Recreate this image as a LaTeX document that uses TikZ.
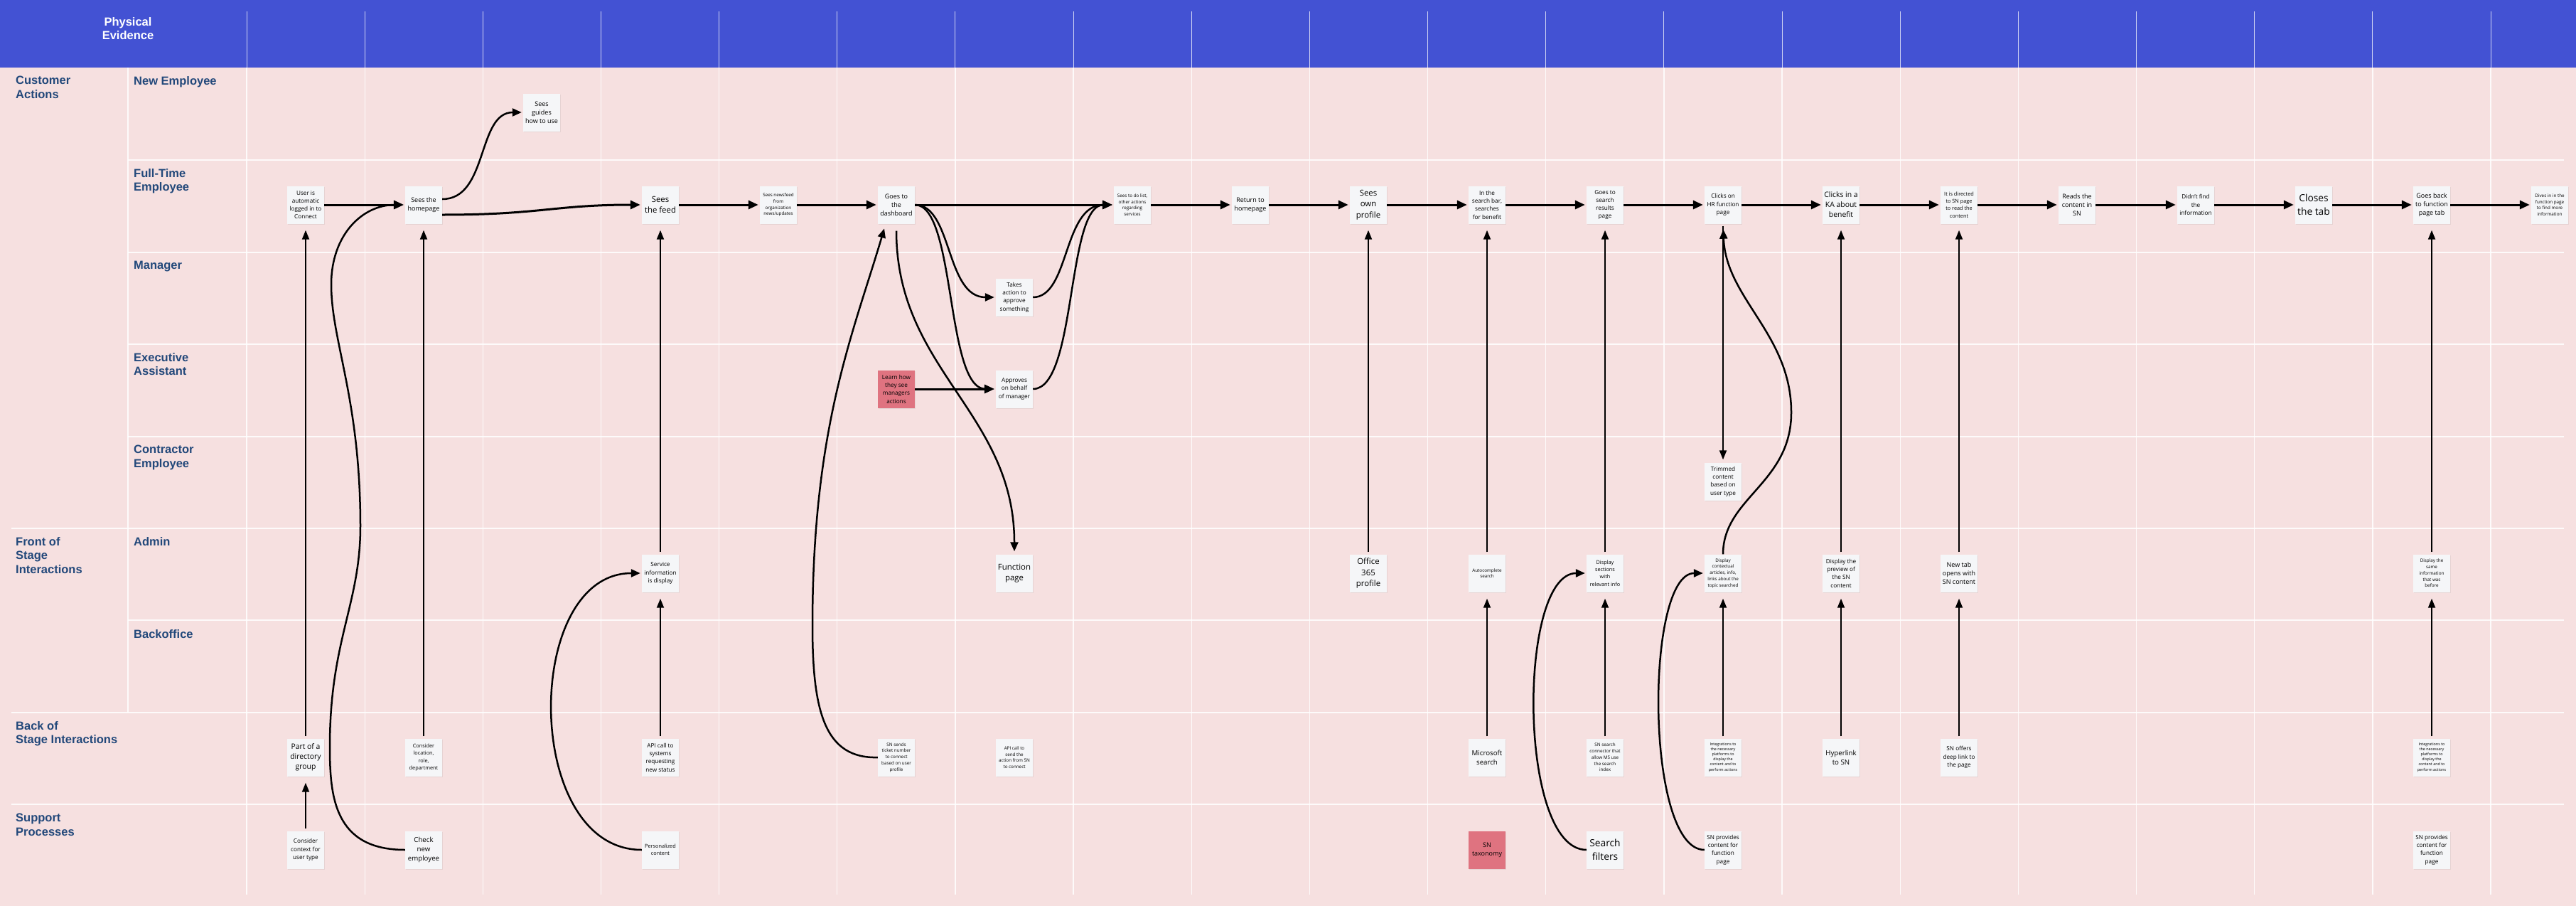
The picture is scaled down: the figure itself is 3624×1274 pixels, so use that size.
\documentclass[tikz,border=0pt]{standalone}
\usepackage{fontspec}
\setmainfont{Open Sans}
\newfontfamily\lanefont{Liberation Sans}
\usetikzlibrary{arrows.meta,shadows}
\definecolor{band}{HTML}{4352D3}
\definecolor{paper}{HTML}{F6E0E0}
\definecolor{cardfill}{HTML}{F5F6F8}
\definecolor{flagred}{HTML}{DF7380}
\definecolor{lanec}{HTML}{22487A}
\newcommand{\sz}[2]{\fontsize{#1}{#2}\selectfont}

\begin{document}
\begin{tikzpicture}[x=1pt,y=-1pt,
  card/.style={fill=cardfill,minimum width=52,minimum height=53,inner sep=1pt,align=center,
    drop shadow={shadow xshift=0.5pt,shadow yshift=-1.2pt,opacity=0.13},font=\sz{8.2}{11.3}},
  flag/.style={fill=flagred},
  s5/.style={font=\sz{5.4}{7.1}},
  s6/.style={font=\sz{6.3}{8.7}},
  s7/.style={font=\sz{7.3}{10.2}},
  s9/.style={font=\sz{9}{12.2}},
  s10/.style={font=\sz{9.7}{13}},
  s11/.style={font=\sz{10.4}{14}},
  s12/.style={font=\sz{11.4}{15.3}},
  s14/.style={font=\sz{13.8}{18.5}},
  lane/.style={anchor=north west,inner sep=0pt,align=left,text=lanec,font=\lanefont\bfseries\sz{16.5}{19.5}},
  gridline/.style={draw=white,line width=1.3pt,opacity=0.85},
  flow/.style={-{Triangle[length=14pt,width=12pt]},line width=3pt,shorten >=2pt},
  swoop/.style={-{Triangle[length=13pt,width=11pt]},line width=2.5pt,shorten >=2pt},
  lift/.style={-{Triangle[length=13pt,width=10pt]},line width=2pt,shorten >=9pt,shorten <=3pt}]
\useasboundingbox (0,0) rectangle (3624,1274);
\fill[paper] (0,0) rectangle (3624,1274);
\fill[band] (0,0) rectangle (3624,95);
\foreach \k in {0,...,19}
  \draw[white,opacity=0.75,line width=1pt] ({347+166.16*\k},16) -- ++(0,79);
\foreach \k in {0,...,19}
  \draw[gridline] ({347+166.16*\k},95) -- ++(0,1163);
\draw[gridline] (180,95) -- (180,1002);
\foreach \y in {225,355,484,614,872}
  \draw[gridline] (180,\y) -- (3607,\y);
\foreach \y in {743,1002,1131}
  \draw[gridline] (16,\y) -- (3607,\y);

\node[lane,text=white,anchor=center,align=center] (lpe) at (180,40) {Physical\\Evidence};
\node[lane] (lca) at (22,107) {Customer\\Actions};
\node[lane] (lne) at (188,107) {New Employee};
\node[lane] (lft) at (188,237) {Full-Time\\Employee};
\node[lane] (lmg) at (188,367) {Manager};
\node[lane] (lea) at (188,496) {Executive\\Assistant};
\node[lane] (lce) at (188,626) {Contractor\\Employee};
\node[lane] (lfs) at (22,755) {Front of\\Stage\\Interactions};
\node[lane] (lad) at (188,755) {Admin};
\node[lane] (lbo) at (188,885) {Backoffice};
\node[lane] (lbs) at (22,1014) {Back of\\Stage Interactions};
\node[lane] (lsp) at (22,1144) {Support\\Processes};

\node[card] (usr) at (430,288) {User is\\automatic\\logged in to\\Connect};
\node[card,s9] (hom) at (596,288) {Sees the\\homepage};
\node[card,s9] (gui) at (762,158) {Sees\\guides\\how to use};
\node[card,s12] (fed) at (929,288) {Sees\\the feed};
\node[card,s6] (nws) at (1095,288) {Sees newsfeed\\from\\organization\\news/updates};
\node[card,s9] (dsh) at (1261,288) {Goes to\\the\\dashboard};
\node[card] (tak) at (1427,418) {Takes\\action to\\approve\\something};
\node[card] (apv) at (1427,547) {Approves\\on behalf\\of manager};
\node[card,flag] (lrn) at (1261,547) {Learn how\\they see\\managers\\actions};
\node[card,s6] (tdo) at (1593,288) {Sees to do list,\\other actions\\regarding\\services};
\node[card,s9] (ret) at (1759,288) {Return to\\homepage};
\node[card,s12] (prf) at (1925,288) {Sees\\own\\profile};
\node[card] (sbr) at (2092,288) {In the\\search bar,\\searches\\for benefit};
\node[card] (srp) at (2258,288) {Goes to\\search\\results\\page};
\node[card] (hrf) at (2424,288) {Clicks on\\HR function\\page};
\node[card,s11] (kab) at (2590,288) {Clicks in a\\KA about\\benefit};
\node[card,s7] (dir) at (2756,288) {It is directed\\to SN page\\to read the\\content};
\node[card,s9] (rds) at (2922,288) {Reads the\\content in\\SN};
\node[card] (dnf) at (3089,288) {Didn't find\\the\\information};
\node[card,s14] (cls) at (3255,288) {Closes\\the tab};
\node[card,s9] (gbk) at (3421,288) {Goes back\\to function\\page tab};
\node[card,s6] (div) at (3587,288) {Dives in in the\\function page\\to find more\\information};
\node[card] (trm) at (2424,677) {Trimmed\\content\\based on\\user type};

\node[card] (svc) at (929,806) {Service\\information\\is display};
\node[card,s12] (fnc) at (1427,806) {Function\\page};
\node[card,s12] (ofc) at (1925,806) {Office\\365\\profile};
\node[card,s6] (acs) at (2092,806) {Autocomplete\\search};
\node[card,s7] (dsc) at (2258,806) {Display\\sections\\with\\relevant info};
\node[card,s6] (ctx) at (2424,806) {Display\\contextual\\articles, info,\\links about the\\topic searched};
\node[card] (prv) at (2590,806) {Display the\\preview of\\the SN\\content};
\node[card,s9] (ntb) at (2756,806) {New tab\\opens with\\SN content};
\node[card,s6] (dsm) at (3421,806) {Display the\\same\\information\\that was\\before};

\node[card,s11] (pdg) at (430,1065) {Part of a\\directory\\group};
\node[card,s7] (loc) at (596,1065) {Consider\\location,\\role,\\department};
\node[card] (api) at (929,1065) {API call to\\systems\\requesting\\new status};
\node[card,s6] (snt) at (1261,1065) {SN sends\\ticket number\\to connect\\based on user\\profile};
\node[card,s6] (aps) at (1427,1065) {API call to\\send the\\action from SN\\to connect};
\node[card,s10] (mss) at (2092,1065) {Microsoft\\search};
\node[card,s6] (ssc) at (2258,1065) {SN search\\connector that\\allow MS use\\the search\\index};
\node[card,s5] (itg) at (2424,1065) {Integrations to\\the necessary\\platforms to\\display the\\content and to\\perform actions};
\node[card,s10] (hyp) at (2590,1065) {Hyperlink\\to SN};
\node[card] (sdl) at (2756,1065) {SN offers\\deep link to\\the page};
\node[card,s5] (itb) at (3421,1065) {Integrations to\\the necessary\\platforms to\\display the\\content and to\\perform actions};

\node[card] (ccx) at (430,1195) {Consider\\context for\\user type};
\node[card,s10] (chk) at (596,1195) {Check\\new\\employee};
\node[card,s7] (per) at (929,1195) {Personalized\\content};
\node[card,flag,s9] (tax) at (2092,1195) {SN\\taxonomy};
\node[card,s14] (flt) at (2258,1195) {Search\\filters};
\node[card] (spc) at (2424,1195) {SN provides\\content for\\function\\page};
\node[card] (spd) at (3421,1195) {SN provides\\content for\\function\\page};

\draw[flow] (usr) -- (hom);
\draw[swoop] ([yshift=8pt]hom.east) .. controls (687,280) and (671,158) .. (gui.west);
\draw[flow] ([yshift=-14pt]hom.east) .. controls (760,302) and (780,288) .. (fed.west);
\draw[flow] (fed) -- (nws);
\draw[flow] (nws) -- (dsh);
\draw[flow] (dsh) -- (tdo);
\draw[swoop] (dsh.east) .. controls (1340,288) and (1330,418) .. (tak.west);
\draw[swoop] (dsh.east) .. controls (1345,288) and (1330,547) .. (apv.west);
\draw[swoop] (tak.east) .. controls (1505,418) and (1495,288) .. (tdo.west);
\draw[swoop] (apv.east) .. controls (1515,547) and (1500,288) .. (tdo.west);
\draw[flow] (lrn) -- (apv);
\draw[flow] (tdo) -- (ret);
\draw[flow] (ret) -- (prf);
\draw[flow] (prf) -- (sbr);
\draw[flow] (sbr) -- (srp);
\draw[flow] (srp) -- (hrf);
\draw[flow] (hrf) -- (kab);
\draw[flow] (kab) -- (dir);
\draw[flow] (dir) -- (rds);
\draw[flow] (rds) -- (dnf);
\draw[flow] (dnf) -- (cls);
\draw[flow] (cls) -- (gbk);
\draw[flow] (gbk) -- (div);

\draw[swoop,shorten <=10pt,shorten >=4pt] (dsh.south) .. controls (1261,520) and (1427,580) .. (fnc.north);
\draw[swoop,shorten >=7pt] (snt.west) .. controls (1160,1067) and (1143,1000) .. (1143,880)
  .. controls (1143,600) and (1200,470) .. ([xshift=-15pt]dsh.south);
\draw[swoop] (chk.west) .. controls (470,1195) and (464,1120) .. (464,1050)
  .. controls (464,900) and (507,850) .. (507,740)
  .. controls (507,560) and (466,480) .. (466,400)
  .. controls (466,330) and (510,288) .. (hom.west);
\draw[swoop] (per.west) .. controls (735,1195) and (735,806) .. (svc.west);
\draw[swoop] (flt.west) .. controls (2135,1195) and (2135,806) .. (dsc.west);
\draw[swoop] (spc.west) .. controls (2314,1195) and (2314,806) .. (ctx.west);
\draw[swoop,shorten >=8pt] (ctx.north) .. controls (2424,700) and (2520,680) .. (2520,580)
  .. controls (2520,470) and (2428,420) .. (hrf.south);
\draw[lift,shorten >=4pt] (hrf) -- (trm);

\draw[lift] (pdg) -- (usr);
\draw[lift] (ccx) -- (pdg);
\draw[lift] (loc) -- (hom);
\draw[lift] (api) -- (svc);
\draw[lift] (svc) -- (fed);
\draw[lift] (ofc) -- (prf);
\draw[lift] (mss) -- (acs);
\draw[lift] (acs) -- (sbr);
\draw[lift] (ssc) -- (dsc);
\draw[lift] (dsc) -- (srp);
\draw[lift] (itg) -- (ctx);
\draw[lift] (hyp) -- (prv);
\draw[lift] (prv) -- (kab);
\draw[lift] (sdl) -- (ntb);
\draw[lift] (ntb) -- (dir);
\draw[lift] (itb) -- (dsm);
\draw[lift] (dsm) -- (gbk);
\end{tikzpicture}
\end{document}
